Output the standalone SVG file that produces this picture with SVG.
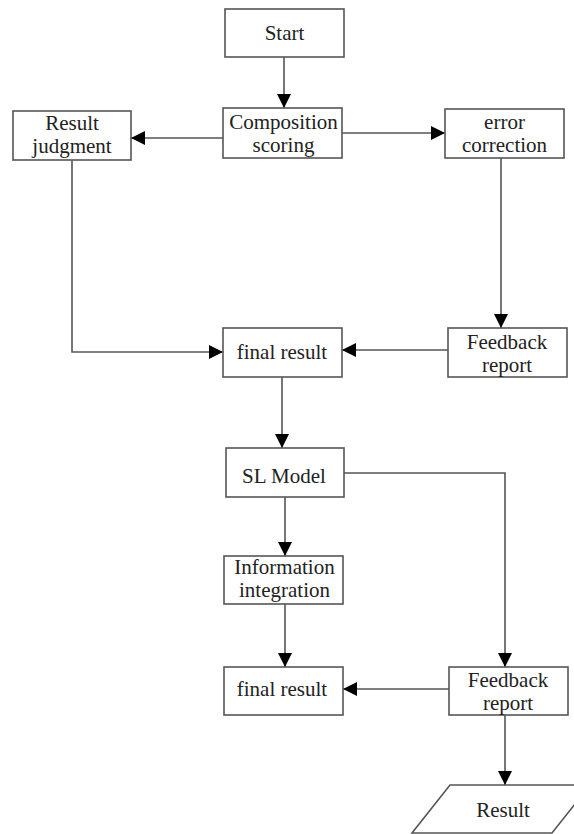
<svg xmlns="http://www.w3.org/2000/svg" width="574" height="834" viewBox="0 0 574 834">
<style>
.box{fill:#fff;stroke:#555;stroke-width:1.6}
.t{font-family:"Liberation Serif","Times New Roman",serif;font-size:21px;fill:#222;text-anchor:middle}
.c{fill:none;stroke:#555;stroke-width:1.6}
</style>
<defs>
<marker id="ah" markerUnits="userSpaceOnUse" markerWidth="14" markerHeight="14" viewBox="0 0 14 14" refX="14" refY="7" orient="auto">
<path d="M0,0 L14,7 L0,14 Z" fill="#000"/>
</marker>
</defs>
<rect width="574" height="834" fill="#fff"/>
<g id="connectors">
<path class="c" d="M284 57 V108" marker-end="url(#ah)"/>
<path class="c" d="M223 138 H131" marker-end="url(#ah)"/>
<path class="c" d="M342 133 H445" marker-end="url(#ah)"/>
<path class="c" d="M72 160 V352 H223" marker-end="url(#ah)"/>
<path class="c" d="M501 158 V328" marker-end="url(#ah)"/>
<path class="c" d="M448 350 H342" marker-end="url(#ah)"/>
<path class="c" d="M282 377 V448" marker-end="url(#ah)"/>
<path class="c" d="M344 473 H505 V667" marker-end="url(#ah)"/>
<path class="c" d="M285 497 V556" marker-end="url(#ah)"/>
<path class="c" d="M285 604 V667" marker-end="url(#ah)"/>
<path class="c" d="M449 689 H343" marker-end="url(#ah)"/>
<path class="c" d="M505 715 V785" marker-end="url(#ah)"/>
</g>
<g id="start"><rect class="box" x="225" y="9" width="119" height="48"/><text class="t" x="284.5" y="40">Start</text></g>
<g id="composition"><rect class="box" x="223" y="108" width="119" height="50"/><text class="t" x="283.5" y="129">Composition</text><text class="t" x="283.5" y="152">scoring</text></g>
<g id="result-judgment"><rect class="box" x="13" y="111" width="118" height="49"/><text class="t" x="72" y="130">Result</text><text class="t" x="72" y="153">judgment</text></g>
<g id="error-correction"><rect class="box" x="445" y="109" width="119" height="49"/><text class="t" x="504.5" y="129">error</text><text class="t" x="504.5" y="152">correction</text></g>
<g id="final-result-1"><rect class="box" x="223" y="328" width="119" height="49"/><text class="t" x="282" y="359">final result</text></g>
<g id="feedback-1"><rect class="box" x="448" y="328" width="119" height="49"/><text class="t" x="507" y="349">Feedback</text><text class="t" x="507" y="372">report</text></g>
<g id="sl-model"><rect class="box" x="226" y="448" width="118" height="49"/><text class="t" x="284" y="483">SL Model</text></g>
<g id="information"><rect class="box" x="224" y="556" width="119" height="48"/><text class="t" x="284.5" y="574">Information</text><text class="t" x="284.5" y="597">integration</text></g>
<g id="final-result-2"><rect class="box" x="224" y="667" width="119" height="48"/><text class="t" x="282" y="696">final result</text></g>
<g id="feedback-2"><rect class="box" x="449" y="667" width="119" height="48"/><text class="t" x="508" y="687">Feedback</text><text class="t" x="508" y="710">report</text></g>
<g id="result"><polygon class="box" points="450,785 590,785 552,833 412,833"/><text class="t" x="503" y="817">Result</text></g>
</svg>
